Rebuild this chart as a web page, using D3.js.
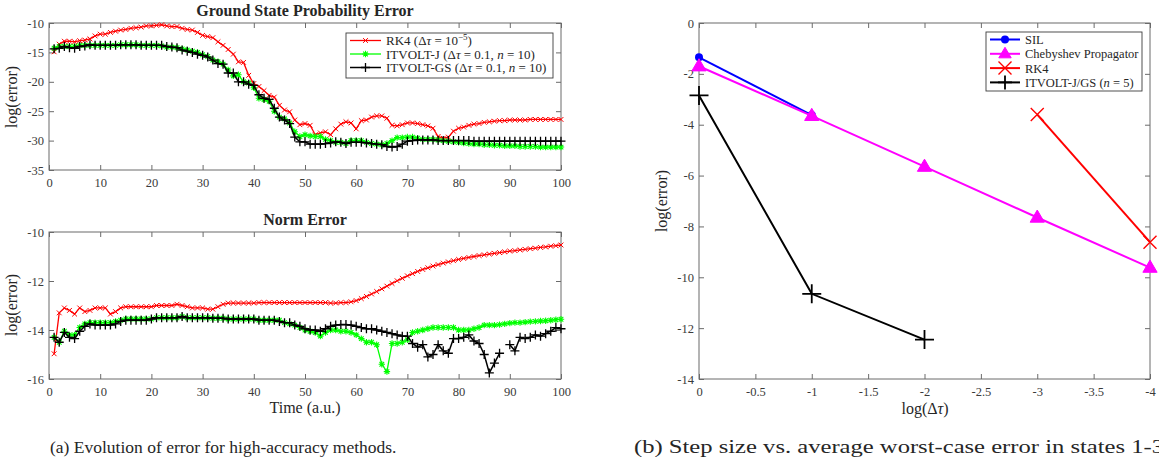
<!DOCTYPE html>
<html>
<head>
<meta charset="utf-8">
<script src="https://cdn.jsdelivr.net/npm/d3@7"></script>
<style>
    body { margin: 0; background: #fff; }
    svg text { font-family: "Liberation Serif", "DejaVu Serif", serif; fill: #262626; }
    .axis path, .axis line { stroke: #6b6b6b; }
    .axis text { font-size: 12.5px; fill: #3a3a3a; font-family: "Liberation Serif", serif; }
</style>
</head>
<body>
<svg id="chart" width="1159" height="465"></svg>
<script>
// time steps (a.u.)
var timeSteps = d3.range(1, 101);

// ground state probability error, log10
var gsRK4 = [-14.9, -13.6, -13.1, -13.1, -13.2, -13.0, -12.9, -12.7, -12.2, -11.9,
    -11.9, -11.6, -11.4, -11.2, -11.1, -10.9, -10.8, -10.7, -10.5, -10.5,
    -10.4, -10.3, -10.5, -10.6, -10.6, -10.9, -11.1, -11.2, -11.6, -12.1,
    -12.3, -12.5, -13.2, -13.8, -14.5, -15.3, -16.6, -16.7, -18.9, -20.3,
    -20.8, -21.5, -22.3, -22.6, -24.0, -24.8, -25.1, -26.5, -27.3, -27.1,
    -27.4, -29.0, -28.7, -28.5, -29.0, -28.0, -27.2, -26.8, -27.0, -28.0,
    -26.6, -26.5, -26.0, -25.8, -25.8, -26.2, -27.4, -27.5, -27.3, -27.0,
    -27.0, -27.1, -27.3, -27.5, -27.9, -29.3, -29.6, -29.4, -28.4, -27.9,
    -27.7, -27.4, -27.2, -27.1, -26.9, -26.8, -26.7, -26.6, -26.6, -26.5,
    -26.5, -26.5, -26.5, -26.4, -26.4, -26.4, -26.4, -26.4, -26.4, -26.4];
var gsJ = [-14.3, -14.0, -14.0, -14.0, -14.0, -13.8, -13.8, -13.8, -13.8, -13.8,
    -13.8, -13.8, -13.8, -13.7, -13.7, -13.7, -13.7, -13.8, -13.8, -13.8,
    -13.8, -13.9, -14.1, -14.1, -14.2, -14.4, -14.6, -14.8, -15.0, -15.4,
    -15.7, -16.3, -16.6, -17.0, -18.0, -19.0, -18.8, -20.0, -20.2, -21.0,
    -22.8, -23.0, -23.3, -25.0, -26.0, -26.3, -27.0, -28.5, -29.3, -29.0,
    -29.2, -29.3, -29.3, -29.8, -30.0, -30.3, -30.3, -30.5, -30.0, -30.0,
    -30.0, -30.3, -30.5, -30.6, -30.7, -30.5, -30.0, -29.5, -29.5, -29.4,
    -29.4, -29.6, -29.8, -29.8, -29.8, -29.9, -30.0, -30.1, -30.2, -30.3,
    -30.4, -30.5, -30.6, -30.6, -30.7, -30.7, -30.8, -30.8, -30.9, -30.9,
    -30.9, -31.0, -31.0, -31.0, -31.0, -31.1, -31.1, -31.1, -31.1, -31.1];
var gsGS = [-14.4, -14.3, -14.0, -14.2, -14.3, -14.0, -13.9, -13.7, -13.8, -13.8,
    -13.8, -13.8, -13.8, -13.7, -13.7, -13.7, -13.7, -13.8, -13.8, -13.8,
    -13.8, -13.8, -14.0, -14.1, -14.2, -14.6, -14.8, -15.0, -15.3, -15.5,
    -15.8, -16.3, -16.9, -17.0, -18.5, -18.5, -20.0, -20.0, -20.4, -20.6,
    -22.2, -22.8, -23.0, -24.5, -26.0, -26.5, -27.1, -29.4, -30.2, -30.2,
    -30.6, -30.6, -30.6, -30.5, -30.4, -30.2, -30.3, -30.5, -30.3, -30.3,
    -30.3, -30.4, -30.5, -30.6, -30.7, -31.0, -31.1, -31.0, -30.6, -30.1,
    -30.0, -29.9, -29.9, -29.9, -29.9, -30.0, -30.0, -30.0, -30.0, -30.0,
    -30.0, -30.0, -30.1, -30.1, -30.1, -30.1, -30.1, -30.1, -30.1, -30.1,
    -30.1, -30.1, -30.1, -30.1, -30.1, -30.1, -30.1, -30.1, -30.1, -30.1];

// norm error, log10 (null = no value)
var normRK4 = [-14.97, -13.3, -13.1, -13.2, -13.35, -13.1, -13.25, -13.2, -13.1, -13.1,
    -13.1, -13.35, -13.25, -13.1, -13.05, -13.05, -13.05, -13.05, -13.05, -13.05,
    -13.0, -13.0, -13.0, -13.0, -12.95, -13.0, -13.05, -13.1, -13.1, -13.1,
    -13.15, -13.15, -13.05, -12.95, -12.9, -12.9, -12.9, -12.9, -12.9, -12.9,
    -12.88, -12.88, -12.88, -12.88, -12.88, -12.88, -12.88, -12.88, -12.88, -12.88,
    -12.88, -12.88, -12.88, -12.88, -12.9, -12.9, -12.88, -12.88, -12.85, -12.8,
    -12.72, -12.63, -12.53, -12.43, -12.32, -12.21, -12.1, -11.99, -11.89, -11.79,
    -11.7, -11.61, -11.53, -11.46, -11.39, -11.33, -11.27, -11.22, -11.17, -11.12,
    -11.08, -11.04, -11.0, -10.96, -10.93, -10.9, -10.87, -10.84, -10.81, -10.78,
    -10.76, -10.73, -10.71, -10.68, -10.66, -10.63, -10.61, -10.58, -10.56, -10.53];
var normJ = [-14.3, -14.5, -14.05, -14.2, -14.2, -13.9, -13.75, -13.7, -13.7, -13.7,
    -13.7, -13.7, -13.65, -13.6, -13.55, -13.55, -13.55, -13.55, -13.55, -13.55,
    -13.5, -13.5, -13.5, -13.5, -13.5, -13.45, -13.5, -13.5, -13.5, -13.5,
    -13.5, -13.52, -13.52, -13.52, -13.55, -13.55, -13.55, -13.55, -13.55, -13.55,
    -13.6, -13.6, -13.6, -13.6, -13.6, -13.7, -13.75, -13.8, -13.9, -14.0,
    -14.05, -14.1, -14.25, -14.1, -14.0, -14.0, -14.05, -14.05, -14.1, -14.2,
    -14.35, -14.5, -14.5, -14.6, -15.4, -15.7, -14.55, -14.55, -14.5, -14.4,
    -14.1, -14.05, -14.0, -13.95, -13.9, -13.9, -13.9, -13.9, -13.9, -14.0,
    -14.0, -14.0, -13.95, -13.9, -13.8, -13.8, -13.8, -13.78, -13.75, -13.72,
    -13.7, -13.7, -13.68, -13.66, -13.65, -13.63, -13.62, -13.6, -13.58, -13.56];
var normGS = [-14.3, -14.5, -14.1, -14.3, -14.35, -14.05, -13.85, -13.75, -13.8, -13.8,
    -13.8, -13.8, -13.75, -13.65, -13.6, -13.6, -13.6, -13.6, -13.6, -13.55,
    -13.5, -13.5, -13.5, -13.5, -13.5, -13.45, -13.5, -13.5, -13.5, -13.5,
    -13.5, -13.52, -13.52, -13.52, -13.55, -13.55, -13.55, -13.55, -13.55, -13.55,
    -13.6, -13.6, -13.6, -13.6, -13.65, -13.7, -13.7, -13.8, -13.85, -13.95,
    -14.0, -14.0, -14.05, -13.95, -13.85, -13.8, -13.78, -13.78, -13.8, -13.85,
    -13.9, -13.95, -13.95, -14.0, -14.05, -14.1, -14.15, -14.2, -14.25, -14.25,
    -14.55, -14.7, -14.6, -15.1, -15.0, -14.6, -14.85, -14.95, -14.35, -14.35,
    -14.3, -14.2, -14.45, -14.55, -15.0, -15.75, -15.35, -14.95, null, -14.6,
    -14.85, -14.3, -14.35, -14.3, -14.2, -14.25, -14.15, -14.05, -13.9, -13.95];

// step size study
var logStep = [0, -1, -2, -3, -4];
var silErr = [-1.35, -3.62, null, null, null];
var chebErr = [-1.7, -3.65, -5.65, -7.65, -9.62];
var rk4Err = [null, null, null, -3.6, -8.62];
var itvoltErr = [-2.85, -10.65, -12.45, null, null];

// tick labels
var timeTicks = [0, 10, 20, 30, 40, 50, 60, 70, 80, 90, 100];
var gsTicks = [-35, -30, -25, -20, -15, -10];
var normTicks = [-16, -14, -12, -10];
var stepTicks = [0, -0.5, -1, -1.5, -2, -2.5, -3, -3.5, -4];
var errTicks = [-14, -12, -10, -8, -6, -4, -2, 0];

var svg = d3.select("#chart");

function markerPath(type, s) {
    if (type == "x") {
        return "M" + (-s) + "," + (-s) + "L" + s + "," + s + "M" + (-s) + "," + s + "L" + s + "," + (-s);
    }
    if (type == "plus") {
        return "M" + (-s) + ",0H" + s + "M0," + (-s) + "V" + s;
    }
    if (type == "star") {
        var k = s * 0.72;
        return "M" + (-s) + ",0H" + s + "M0," + (-s) + "V" + s +
            "M" + (-k) + "," + (-k) + "L" + k + "," + k + "M" + (-k) + "," + k + "L" + k + "," + (-k);
    }
    if (type == "tri") {
        return "M0," + (-s) + "L" + (s * 0.95) + "," + (s * 0.62) + "L" + (-s * 0.95) + "," + (s * 0.62) + "Z";
    }
    return "";
}

function addMarker(sel, d) {
    if (d.marker == "circle") {
        sel.append("circle").attr("r", d.size).attr("fill", d.color);
    } else {
        sel.append("path")
            .attr("d", markerPath(d.marker, d.size))
            .attr("fill", d.marker == "tri" ? d.color : "none")
            .attr("stroke", d.color)
            .attr("stroke-width", d.markerWidth || 1);
    }
}

function plainFormat(d) { return String(d); }

function drawFrame(x, y, xTicks, yTicks) {
    var x0 = x.range()[0], x1 = x.range()[1];
    var y0 = y.range()[1], y1 = y.range()[0];
    var g = svg.append("g");

    var bottom = g.append("g")
        .attr("class", "axis")
        .attr("transform", "translate(0," + y1 + ")")
        .call(d3.axisBottom(x).tickValues(xTicks).tickSize(-5).tickPadding(8).tickFormat(plainFormat));
    var top = g.append("g")
        .attr("class", "axis")
        .attr("transform", "translate(0," + y0 + ")")
        .call(d3.axisTop(x).tickValues(xTicks).tickSize(-5).tickFormat(""));
    var left = g.append("g")
        .attr("class", "axis")
        .attr("transform", "translate(" + x0 + ",0)")
        .call(d3.axisLeft(y).tickValues(yTicks).tickSize(-5).tickPadding(5).tickFormat(plainFormat));
    var right = g.append("g")
        .attr("class", "axis")
        .attr("transform", "translate(" + x1 + ",0)")
        .call(d3.axisRight(y).tickValues(yTicks).tickSize(-5).tickFormat(""));

    [bottom, top, left, right].forEach(function(a) {
        a.select(".domain").remove();
    });

    g.append("rect")
        .attr("x", x0).attr("y", y0)
        .attr("width", x1 - x0).attr("height", y1 - y0)
        .attr("fill", "none")
        .attr("stroke", "#6b6b6b");
    return g;
}

function drawSeries(xs, ys, x, y, s) {
    var pts = xs.map(function(v, i) { return { x: v, y: ys[i] }; });
    var line = d3.line()
        .defined(function(d) { return d.y != null; })
        .x(function(d) { return x(d.x); })
        .y(function(d) { return y(d.y); });

    svg.append("path")
        .datum(pts)
        .attr("fill", "none")
        .attr("stroke", s.color)
        .attr("stroke-width", s.width)
        .attr("d", line);

    svg.append("g").selectAll("g")
        .data(pts.filter(function(d) { return d.y != null; }))
        .enter().append("g")
        .attr("transform", function(d) {
            return "translate(" + x(d.x) + "," + y(d.y) + ")";
        })
        .each(function() { addMarker(d3.select(this), s); });
}

function addRichText(sel, parts) {
    parts.forEach(function(p) {
        var t = sel.append("tspan").text(p[0]);
        if (p[1] == "i") t.attr("font-style", "italic");
        if (p[1] == "sup") t.attr("font-size", "9px").attr("dy", -5);
        if (p[1] == "down") t.attr("dy", 5);
    });
}

function drawLegend(box, items, lineLen, fontSize) {
    var lg = svg.append("g");
    lg.append("rect")
        .attr("x", box.x).attr("y", box.y)
        .attr("width", box.w).attr("height", box.h)
        .attr("fill", "#fff")
        .attr("stroke", "#3c3c3c")
        .attr("stroke-width", 0.9);

    var rows = lg.selectAll("g.row")
        .data(items)
        .enter().append("g")
        .attr("class", "row")
        .attr("transform", function(d, i) {
            return "translate(" + (box.x + 4) + "," + (box.y + box.first + i * box.step) + ")";
        });

    rows.append("line")
        .attr("x1", 0).attr("x2", lineLen)
        .attr("stroke", function(d) { return d.color; })
        .attr("stroke-width", function(d) { return d.width; });

    rows.append("g")
        .attr("transform", "translate(" + (lineLen / 2) + ",0)")
        .each(function(d) { addMarker(d3.select(this), d); });

    rows.append("text")
        .attr("x", lineLen + 5)
        .attr("y", 4.5)
        .attr("font-size", fontSize)
        .each(function(d) { addRichText(d3.select(this), d.label); });
}

// ---------- (a) left panels ----------
var xTime = d3.scaleLinear().domain([0, 100]).range([49, 561]);
var yGs = d3.scaleLinear().domain([-35, -10]).range([170, 23]);
var yNorm = d3.scaleLinear().domain([-16, -10]).range([379, 232]);

var leftSeries = [
    { color: "#ff0000", width: 1.3, marker: "x", size: 2.4, markerWidth: 1,
      label: [["RK4 (Δ"], ["τ", "i"], [" = 10"], ["−5", "sup"], [")", "down"]] },
    { color: "#00ff00", width: 1.3, marker: "star", size: 3.2, markerWidth: 1.1,
      label: [["ITVOLT-J (Δ"], ["τ", "i"], [" = 0.1, "], ["n", "i"], [" = 10)"]] },
    { color: "#000000", width: 1.5, marker: "plus", size: 4.5, markerWidth: 1.3,
      label: [["ITVOLT-GS (Δ"], ["τ", "i"], [" = 0.1, "], ["n", "i"], [" = 10)"]] }
];

drawFrame(xTime, yGs, timeTicks, gsTicks);
[gsRK4, gsJ, gsGS].forEach(function(vals, i) {
    drawSeries(timeSteps, vals, xTime, yGs, leftSeries[i]);
});

drawFrame(xTime, yNorm, timeTicks, normTicks);
[normRK4, normJ, normGS].forEach(function(vals, i) {
    drawSeries(timeSteps, vals, xTime, yNorm, leftSeries[i]);
});

drawLegend({ x: 346, y: 33, w: 207, h: 45, first: 7.5, step: 13.5 }, leftSeries, 31, "13px");

svg.append("text")
    .attr("x", 305).attr("y", 16)
    .attr("text-anchor", "middle")
    .attr("font-size", "16px").attr("font-weight", "bold")
    .text("Ground State Probability Error");

svg.append("text")
    .attr("x", 305).attr("y", 225)
    .attr("text-anchor", "middle")
    .attr("font-size", "16px").attr("font-weight", "bold")
    .text("Norm Error");

svg.append("text")
    .attr("x", 305).attr("y", 413)
    .attr("text-anchor", "middle")
    .attr("font-size", "16px")
    .text("Time (a.u.)");

[97, 305].forEach(function(cy) {
    svg.append("text")
        .attr("transform", "translate(17," + cy + ") rotate(-90)")
        .attr("text-anchor", "middle")
        .attr("font-size", "16px")
        .text("log(error)");
});

// ---------- (b) right panel ----------
var xStep = d3.scaleLinear().domain([0, -4]).range([699, 1150]);
var yErr = d3.scaleLinear().domain([-14, 0]).range([379, 23]);

var rightSeries = [
    { color: "#0000ff", width: 2, marker: "circle", size: 4, label: [["SIL"]] },
    { color: "#ff00ff", width: 2, marker: "tri", size: 7.5, label: [["Chebyshev Propagator"]] },
    { color: "#ff0000", width: 2, marker: "x", size: 6.5, markerWidth: 1.4, label: [["RK4"]] },
    { color: "#000000", width: 2, marker: "plus", size: 9.5, markerWidth: 1.8,
      label: [["ITVOLT-J/GS ("], ["n", "i"], [" = 5)"]] }
];

drawFrame(xStep, yErr, stepTicks, errTicks);
[silErr, chebErr, rk4Err, itvoltErr].forEach(function(vals, i) {
    drawSeries(logStep, vals, xStep, yErr, rightSeries[i]);
});

drawLegend({ x: 986, y: 32, w: 156, h: 59, first: 7.5, step: 14.3 },
    rightSeries.map(function(d) {
        return Object.assign({}, d, { size: d.marker == "plus" ? 7 : (d.marker == "tri" ? 6.5 : d.size) });
    }), 30, "12.5px");

svg.append("text")
    .attr("transform", "translate(667,201) rotate(-90)")
    .attr("text-anchor", "middle")
    .attr("font-size", "16px")
    .text("log(error)");

svg.append("text")
    .attr("x", 925).attr("y", 414)
    .attr("text-anchor", "middle")
    .attr("font-size", "16px")
    .call(function(t) { addRichText(t, [["log(Δ"], ["τ", "i"], [")"]]); });

// ---------- captions ----------
svg.append("text")
    .attr("x", 50).attr("y", 453)
    .attr("font-size", "17.5px")
    .text("(a) Evolution of error for high-accuracy methods.");

svg.append("text")
    .attr("x", 634).attr("y", 453)
    .attr("font-size", "19px")
    .attr("textLength", 530)
    .attr("lengthAdjust", "spacingAndGlyphs")
    .text("(b) Step size vs. average worst-case error in states 1-3");
</script>
</body>
</html>
